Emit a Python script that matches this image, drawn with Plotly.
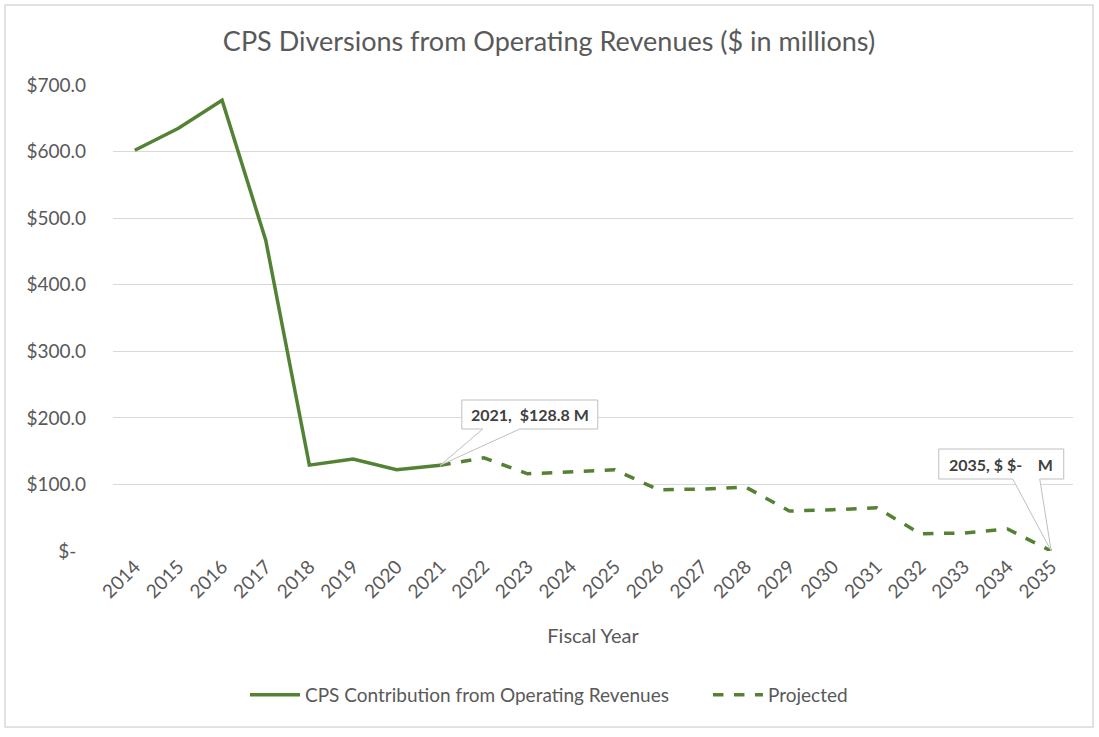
import plotly.graph_objects as go

years = [str(y) for y in range(2014, 2036)]
actual = [602, 635, 677, 467, 129, 138, 122, 128.8] + [None] * 14
projected = [None] * 7 + [128.8, 140, 116, 119, 122, 92, 93, 96, 60, 62, 65, 26, 27, 33, 0]
ytick_vals = [0, 100, 200, 300, 400, 500, 600, 700]
ytick_text = ["$-\u00a0\u00a0", "$100.0", "$200.0", "$300.0", "$400.0", "$500.0", "$600.0", "$700.0"]

GREEN = "#548235"
GRAY_TXT = "#595959"
FONT = "Lato, Open Sans, sans-serif"

fig = go.Figure()
fig.add_trace(go.Scatter(x=years, y=actual, mode="lines",
                         name="CPS Contribution from Operating Revenues" + "\u00a0" * 7,
                         line=dict(color=GREEN, width=3.5), connectgaps=False))
fig.add_trace(go.Scatter(x=years, y=projected, mode="lines", name="Projected",
                         line=dict(color=GREEN, width=3.5, dash="dash"), connectgaps=False))

W, H = 1099, 737
L, R, T, B = 113, 26, 85, 186
pw, ph = W - L - R, H - T - B

def px2paper(px, py):
    return (px - L) / pw, (H - B - py) / ph

# chart border
x0, y0 = px2paper(5, 727)
x1, y1 = px2paper(1093, 5)
fig.add_shape(type="rect", xref="paper", yref="paper", x0=x0, y0=y0, x1=x1, y1=y1,
              line=dict(color="#d9d9d9", width=1.5), fillcolor="rgba(0,0,0,0)", layer="below")

# callouts: (category index of point, value, box in pixels, wedge base pixels, text)
def callout(idx, val, box, wedge, text):
    xs = lambda p: (p - 133) / 43.64
    ys = lambda p: (551 - p) / (466 / 700)
    bl, bt, br, bb = box
    w1, w2 = wedge
    path = (f"M {xs(bl)},{ys(bt)} L {xs(br)},{ys(bt)} L {xs(br)},{ys(bb)} L {xs(w2)},{ys(bb)} "
            f"L {idx},{val} L {xs(w1)},{ys(bb)} L {xs(bl)},{ys(bb)} Z")
    fig.add_shape(type="path", xref="x", yref="y", path=path,
                  line=dict(color="#bfbfbf", width=1), fillcolor="white", layer="above")
    fig.add_annotation(xref="x", yref="y", x=(xs(bl) + xs(br)) / 2, y=(ys(bt) + ys(bb)) / 2,
                       text=f"<b>{text}</b>", showarrow=False,
                       font=dict(family=FONT, size=16, color="#404040"))

callout(7, actual[7], (460, 400, 596, 429), (481, 518), "2021,\u00a0\u00a0$128.8 M")
callout(21, projected[21], (937, 449, 1062, 479), (1011, 1038), "2035, $ $-\u00a0\u00a0\u00a0\u00a0M")

fig.update_layout(
    width=W, height=H,
    margin=dict(l=L, r=R, t=T, b=B),
    paper_bgcolor="white", plot_bgcolor="white",
    title=dict(text="CPS Diversions from Operating Revenues ($ in millions)", x=549 / W, xanchor="center",
               y=1 - 42 / H, yanchor="middle", font=dict(family=FONT, size=27, color=GRAY_TXT)),
    font=dict(family=FONT, color=GRAY_TXT),
    legend=dict(orientation="h", x=(549 - L) / pw, xanchor="center", y=(H - B - 695) / ph, yanchor="middle",
                font=dict(family=FONT, size=19, color=GRAY_TXT), itemwidth=50, tracegroupgap=0),
    showlegend=True,
)
fig.update_xaxes(type="category", range=[-0.5, 21.5], tickangle=-45, showgrid=False, showline=False,
                 ticks="", tickfont=dict(family=FONT, size=19, color=GRAY_TXT),
                 title=dict(text="Fiscal Year", font=dict(family=FONT, size=20, color=GRAY_TXT), standoff=27))
fig.update_yaxes(range=[0, 700], tickvals=ytick_vals, ticktext=ytick_text, showgrid=True,
                 gridcolor="#d9d9d9", gridwidth=1, zeroline=False, showline=False, ticks="",
                 tickfont=dict(family=FONT, size=19, color=GRAY_TXT), ticklabelstandoff=26)

fig.write_html("out.html")
